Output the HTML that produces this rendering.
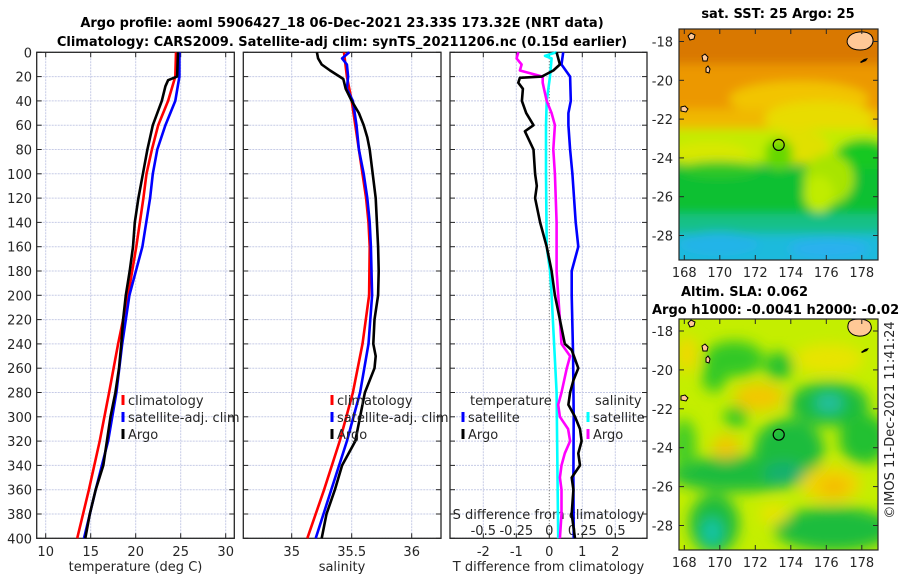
<!DOCTYPE html>
<html><head><meta charset="utf-8"><style>
html,body{margin:0;padding:0;background:#fff;}
svg{display:block;font-family:"DejaVu Sans","Liberation Sans",sans-serif;}
.tk{font-size:13px;fill:#262626;}
.tt{font-size:13px;font-weight:bold;fill:#000;}
</style></head><body>
<svg id="fig" width="900" height="580" viewBox="0 0 900 580" xmlns="http://www.w3.org/2000/svg">
<defs>
<filter id="blur1" x="-10%" y="-10%" width="120%" height="120%"><feGaussianBlur stdDeviation="5"/></filter>
<filter id="blur2" x="-10%" y="-10%" width="120%" height="120%"><feGaussianBlur stdDeviation="7"/></filter>
<clipPath id="clipM1"><rect x="679" y="29" width="199" height="231"/></clipPath>
<clipPath id="clipM2"><rect x="679" y="319" width="199" height="231"/></clipPath>
</defs>
<text class="tt" x="342" y="27" text-anchor="middle">Argo profile: aoml 5906427_18 06-Dec-2021 23.33S 173.32E (NRT data)</text>
<text class="tt" x="342" y="46" text-anchor="middle">Climatology: CARS2009. Satellite-adj clim: synTS_20211206.nc (0.15d earlier)</text>
<g id="panels"></g>
<g id="maps"></g>
<text class="tk" transform="translate(894,420) rotate(-90)" text-anchor="middle">©IMOS 11-Dec-2021 11:41:24</text>
</svg>
<script>
// ---------- data ----------
const depthTicks = [0,20,40,60,80,100,120,140,160,180,200,220,240,260,280,300,320,340,360,380,400];
const tempTicks = [10,15,20,25,30];
const salTicks = [35,35.5,36];
const salTickLabels = ["35","35.5","36"];
const tdiffTicks = [-2,-1,0,1,2];
const sdiffTickLabels = ["-0.5","-0.25","0","0.25","0.5"];
const sdiffTicks = [-0.5,-0.25,0,0.25,0.5];

const tempClimDepth = [0,20,40,60,80,100,120,160,200,240,280,320,360,400];
const tempClim = [24.48,24.4,23.6,22.5,21.8,21.2,20.85,20.07,19.15,18.04,17.04,16.0,14.8,13.5];
const tempSat = [24.85,24.85,24.4,23.3,22.4,21.9,21.6,20.74,19.3,18.5,17.85,16.93,15.56,14.26];
const tempArgoDepth = [0,20,23,28,40,60,70,80,100,120,140,160,180,200,220,240,260,280,300,320,340,360,380,400];
const tempArgo = [24.7,24.6,23.6,23.3,22.9,21.9,21.6,21.3,20.8,20.3,19.9,19.7,19.33,18.9,18.6,18.4,18.15,17.74,17.2,16.8,16.4,15.56,14.9,14.4];

const salClimDepth = [0,20,40,60,80,100,120,140,160,200,240,280,320,360,400];
const salClim = [35.436,35.46,35.5,35.53,35.56,35.59,35.62,35.64,35.65,35.645,35.59,35.51,35.40,35.27,35.13];
const salSatDepth = [0,5,10,20,30,40,60,80,100,120,140,160,200,240,280,320,360,400];
const salSat = [35.48,35.42,35.46,35.47,35.46,35.51,35.54,35.56,35.60,35.63,35.65,35.66,35.67,35.64,35.57,35.46,35.33,35.2];
const salArgoDepth = [0,5,10,15,20,22,30,40,50,60,70,80,100,120,140,160,180,200,220,240,250,260,280,300,320,340,360,380,400];
const salArgo = [35.21,35.22,35.25,35.32,35.40,35.43,35.45,35.5,35.56,35.60,35.63,35.65,35.675,35.70,35.71,35.72,35.725,35.72,35.69,35.68,35.70,35.69,35.61,35.57,35.53,35.42,35.36,35.29,35.25];

const tDiffSatDepth = [0,10,20,40,50,60,80,100,140,160,180,200,250,300,350,400];
const tDiffSat = [0.42,0.37,0.63,0.65,0.58,0.58,0.63,0.7,0.8,0.88,0.68,0.68,0.72,0.74,0.73,0.74];
const tDiffArgoDepth = [0,10,15,20,21,25,30,40,50,60,65,80,100,110,120,140,160,180,200,220,240,245,260,270,280,290,300,310,320,330,340,350,360,380,400];
const tDiffArgo = [0.22,0.32,0.12,-0.23,-0.89,-0.94,-0.8,-0.83,-0.7,-0.48,-0.74,-0.48,-0.43,-0.38,-0.43,-0.28,-0.08,0.07,0.17,0.32,0.47,0.68,0.88,0.73,0.63,0.58,0.78,0.93,0.98,0.88,0.93,0.68,0.73,0.68,0.78];
const sDiffSatDepth = [0,3,5,20,40,60,100,160,180,200,280,400];
const sDiffSat = [0.055,-0.0325,0.0175,0.005,-0.02,-0.025,-0.025,-0.02,0.005,0.0175,0.055,0.0675];
const sDiffArgoDepth = [0,5,10,15,20,25,30,40,50,60,80,100,140,180,200,220,240,250,260,280,290,300,310,320,330,340,350,360,380,400];
const sDiffArgo = [-0.235,-0.2475,-0.21,-0.2225,-0.05,-0.05,-0.04,-0.02,0.0175,0.0425,0.03,0.0425,0.055,0.055,0.0675,0.08,0.0925,0.1575,0.1325,0.0925,0.0675,0.08,0.1425,0.1575,0.1175,0.0925,0.08,0.0925,0.0925,0.08];

const latTicks = [-18,-20,-22,-24,-26,-28];
const lonTicks = [168,170,172,174,176,178];
const argoLon = 173.32, argoLat = -23.33;

// ---------- scales ----------
const yD = d => 52.3 + d*1.215;
const xT = t => 45.7 + (t-10)*9;
const xS = s => 291.7 + (s-35)*120;
const xD = v => 549.3 + v*33;
const xSD = v => 549.3 + v*132;
const lonX = lon => 684.3 + (lon-168)*17.75;
const lat1Y = lat => 41.5 + (-18-lat)*19.4;
const lat2Y = lat => 331 + (-18-lat)*19.45;

const NS = "http://www.w3.org/2000/svg";
const P = document.getElementById('panels');
function el(tag, attrs, parent){const e=document.createElementNS(NS,tag);for(const k in attrs)e.setAttribute(k,attrs[k]);(parent||P).appendChild(e);return e;}
function txt(s,attrs,parent){const e=el('text',attrs,parent);e.textContent=s;return e;}

const panels=[{x0:36.7,x1:234.3},{x0:243.3,x1:441},{x0:450,x1:647}];
const TOP=52.3, BOT=538.3;

panels.forEach((p,i)=>{
  const g=el('g',{});
  
  
  // horizontal grid
  depthTicks.forEach(d=>{
    const l=el('line',{x1:p.x0,x2:p.x1,y1:yD(d),y2:yD(d),stroke:'#c6cbe6','stroke-width':1,'stroke-dasharray':'2,1'},g);
    
    
    el('line',{x1:p.x0,x2:p.x0+5,y1:yD(d),y2:yD(d),stroke:'#262626'},g);
    el('line',{x1:p.x1-5,x2:p.x1,y1:yD(d),y2:yD(d),stroke:'#262626'},g);
  });
});

function vgrid(xs, fn, isZero){
  xs.forEach(v=>{
    const x=fn(v);
    if(isZero && isZero(v)){
      const l=el('line',{x1:x,x2:x,y1:TOP,y2:BOT,stroke:'#555','stroke-width':1,'stroke-dasharray':'1,2'});
      
      
    } else {
      const l=el('line',{x1:x,x2:x,y1:TOP,y2:BOT,stroke:'#c6cbe6','stroke-width':1,'stroke-dasharray':'2,1'});
      
      
    }
    el('line',{x1:x,x2:x,y1:BOT-5,y2:BOT,stroke:'#262626'});
    el('line',{x1:x,x2:x,y1:TOP,y2:TOP+5,stroke:'#262626'});
  });
}
vgrid(tempTicks,xT);
vgrid(salTicks,xS);
vgrid(tdiffTicks,xD,v=>v===0);

// frames
panels.forEach((p,i)=>{
  const r=el('rect',{x:p.x0,y:TOP,width:p.x1-p.x0,height:BOT-TOP,fill:'none',stroke:'#262626','stroke-width':1.3});
  
  
});

// y tick labels
depthTicks.forEach(d=>{
  const t=txt(String(d),{class:'tk',x:32,y:yD(d)+5,'text-anchor':'end'});
  
  
});
// x tick labels
tempTicks.forEach(v=>{const t=txt(String(v),{class:'tk',x:xT(v),y:556,'text-anchor':'middle'});
  });
salTicks.forEach((v,i)=>{const t=txt(salTickLabels[i],{class:'tk',x:xS(v),y:556,'text-anchor':'middle'});
  });
tdiffTicks.forEach(v=>{const t=txt(String(v),{class:'tk',x:xD(v),y:556,'text-anchor':'middle'});
  });
sdiffTicks.forEach((v,i)=>{const t=txt(sdiffTickLabels[i],{class:'tk',x:xSD(v),y:535,'text-anchor':'middle'});
  });

let t;
t=txt('temperature (deg C)',{class:'tk',x:135.5,y:571,'text-anchor':'middle'});

t=txt('salinity',{class:'tk',x:342,y:571,'text-anchor':'middle'});

t=txt('T difference from climatology',{class:'tk',x:548.5,y:571,'text-anchor':'middle'});

t=txt('S difference from climatology',{class:'tk',x:548.5,y:519,'text-anchor':'middle'});


// series
function series(depths, vals, fx, color, name, w){
  const pts=depths.map((d,i)=>fx(vals[i]).toFixed(1)+','+yD(d).toFixed(1)).join(' ');
  const pl=el('polyline',{points:pts,fill:'none',stroke:color,'stroke-width':w||2.6,'stroke-linejoin':'round'});
  
  
}
series(tempClimDepth,tempClim,xT,'#ff0000','temp-climatology-line');
series(tempClimDepth,tempSat,xT,'#0000ff','temp-satellite-line');
series(tempArgoDepth,tempArgo,xT,'#000000','temp-argo-line');
series(salClimDepth,salClim,xS,'#ff0000','sal-climatology-line');
series(salSatDepth,salSat,xS,'#0000ff','sal-satellite-line');
series(salArgoDepth,salArgo,xS,'#000000','sal-argo-line');
series(tDiffSatDepth,tDiffSat,xD,'#0000ff','tdiff-satellite-line');
series(sDiffSatDepth,sDiffSat,xSD,'#00ffff','sdiff-satellite-line');
series(sDiffArgoDepth,sDiffArgo,xSD,'#ff00ff','sdiff-argo-line');
series(tDiffArgoDepth,tDiffArgo,xD,'#000000','tdiff-argo-line');

// legends
function legend(x,y,color,label,name){
  const g=el('g',{});
  
  
  el('line',{x1:x,x2:x,y1:y-10,y2:y,stroke:color,'stroke-width':3},g);
  txt(label,{class:'tk',x:x+5,y:y,fill:'#262626'},g);
}
legend(123,405,'#ff0000','climatology','legend-temp-climatology');
legend(123,422,'#0000ff','satellite-adj. clim','legend-temp-satellite');
legend(123,439,'#000000','Argo','legend-temp-argo');
legend(332,405,'#ff0000','climatology','legend-sal-climatology');
legend(332,422,'#0000ff','satellite-adj. clim','legend-sal-satellite');
legend(332,439,'#000000','Argo','legend-sal-argo');
t=txt('temperature',{class:'tk',x:470,y:405});

t=txt('salinity',{class:'tk',x:595,y:405});

legend(463,422,'#0000ff','satellite','legend-tdiff-satellite');
legend(463,439,'#000000','Argo','legend-tdiff-argo');
legend(588,422,'#00ffff','satellite','legend-sdiff-satellite');
legend(588,439,'#ff00ff','Argo','legend-sdiff-argo');

// ---------- maps ----------
const M=document.getElementById('maps');
function mapFrame(y0,latY,title,name){
  const g=el('g',{},M);
  
  
  el('rect',{x:679,y:y0,width:199,height:231,fill:'none',stroke:'#262626','stroke-width':1.2},g);
  latTicks.forEach(la=>{
    const y=latY(la);
    el('line',{x1:679,x2:684,y1:y,y2:y,stroke:'#262626'},g);
    el('line',{x1:873,x2:878,y1:y,y2:y,stroke:'#262626'},g);
    const tl=txt(String(la),{class:'tk',x:673,y:y+5,'text-anchor':'end'},g);
    
  });
  lonTicks.forEach(lo=>{
    const x=lonX(lo);
    el('line',{x1:x,x2:x,y1:y0+231-5,y2:y0+231,stroke:'#262626'},g);
    el('line',{x1:x,x2:x,y1:y0,y2:y0+5,stroke:'#262626'},g);
    const tl=txt(String(lo),{class:'tk',x:x,y:y0+231+17,'text-anchor':'middle'},g);
    
  });
}
function blob(g,cx,cy,rx,ry,fill){el('ellipse',{cx:cx,cy:cy,rx:rx,ry:ry,fill:fill},g);}
function rect(g,x,y,w,h,fill){el('rect',{x:x,y:y,width:w,height:h,fill:fill},g);}

// map 1: SST
(function(){
  const c=el('g',{'clip-path':'url(#clipM1)'},M);
  
  
  const ox=679, oy=29;
  rect(c,ox,oy,199,231,'#2ab84a');
  const b=el('g',{filter:'url(#blur1)'},c);
  rect(b,ox-20,oy-20,240,60,'#d97800');
  rect(b,ox-20,oy+35,240,45,'#ec9800');
  blob(b,ox+120,oy+70,70,18,'#f2c400');
  rect(b,ox-20,oy+80,240,25,'#f0b800');
  blob(b,ox+140,oy+90,55,18,'#e8dc00');
  rect(b,ox-20,oy+100,240,35,'#c2ec00');
  blob(b,ox+30,oy+125,40,12,'#d8e800');
  blob(b,ox+120,oy+118,30,18,'#e0e000');
  blob(b,ox+100,oy+125,14,16,'#66d800');
  blob(b,ox+185,oy+130,30,20,'#18c820');
  rect(b,ox-20,oy+140,240,45,'#10c030');
  blob(b,ox+150,oy+150,25,25,'#a8e400');
  blob(b,ox+140,oy+165,15,18,'#c0ec00');
  blob(b,ox+40,oy+140,40,8,'#30c828');
  rect(b,ox-20,oy+185,240,20,'#12c088');
  rect(b,ox-20,oy+205,240,40,'#1cbadc');
  blob(b,ox+40,oy+215,40,12,'#20b4e8');
  blob(b,ox+150,oy+220,40,10,'#2cb0ee');
  // land
  el('path',{d:'M848,38 C852,31 866,30 871,35 C876,41 872,50 860,50 C850,50 845,44 848,38 Z',fill:'#ffc896',stroke:'#000','stroke-width':1},c);
  el('path',{d:'M688,36 l3,-3 l4,2 l-1,4 l-4,1 Z',fill:'#ffc896',stroke:'#000','stroke-width':1},c);
  el('path',{d:'M702,56 l3,-2 l3,3 l-1,4 l-4,0 Z',fill:'#ffc896',stroke:'#000','stroke-width':1},c);
  el('path',{d:'M706,68 l2,-2 l2,3 l-1,4 l-3,-1 Z',fill:'#ffc896',stroke:'#000','stroke-width':1},c);
  el('path',{d:'M681,107 l4,-1 l3,3 l-2,3 l-5,-1 Z',fill:'#ffc896',stroke:'#000','stroke-width':1},c);
  el('path',{d:'M860,62 l4,-3 l4,-1 l-2,3 l-5,2 Z',fill:'#000'},c);
})();
mapFrame(29,lat1Y,'','sst-map-axes');
let mk=el('circle',{cx:lonX(argoLon),cy:lat1Y(argoLat),r:5.5,fill:'none',stroke:'#000','stroke-width':1.2},M);


t=txt('sat. SST: 25 Argo: 25',{class:'tt',x:778,y:18,'text-anchor':'middle'},M);


// map 2: SLA
(function(){
  const c=el('g',{'clip-path':'url(#clipM2)'},M);
  
  
  const ox=679, oy=319;
  rect(c,ox,oy,199,231,'#c4ee00');
  const b=el('g',{filter:'url(#blur2)'},c);
  // green structures
  blob(b,ox+55,oy+40,30,18,'#30c828');
  blob(b,ox+35,oy+58,12,15,'#30c828');
  blob(b,ox+100,oy+47,14,14,'#22c030');
  blob(b,ox+57,oy+98,12,11,'#30c828');
  blob(b,ox+60,oy+155,70,18,'#1cbc3c');
  blob(b,ox+110,oy+130,35,30,'#1cbc3c');
  blob(b,ox+150,oy+85,40,22,'#1cbc3c');
  blob(b,ox+150,oy+84,14,10,'#20c0a0');
  blob(b,ox+185,oy+120,25,25,'#20c030');
  blob(b,ox+105,oy+155,20,12,'#18b070');
  blob(b,ox+155,oy+210,60,22,'#1cbc3c');
  blob(b,ox+35,oy+205,25,30,'#1cbc3c');
  blob(b,ox+33,oy+213,10,14,'#18c4a8');
  blob(b,ox+5,oy+125,12,25,'#40cc28');
  // yellow spots
  blob(b,ox+80,oy+78,25,14,'#f2c800');
  blob(b,ox+47,oy+128,14,12,'#f0c800');
  blob(b,ox+152,oy+165,30,18,'#f0d400');
  blob(b,ox+155,oy+168,14,8,'#f5b800');
  blob(b,ox+150,oy+40,35,15,'#e8e400');
  blob(b,ox+8,oy+35,10,18,'#f0d800');
  blob(b,ox+95,oy+195,15,10,'#e8e400');
  el('path',{d:'M849,322 C853,318 866,318 870,323 C874,330 868,337 858,336 C849,335 846,328 849,322 Z',fill:'#ffc896',stroke:'#000','stroke-width':1},c);
  el('path',{d:'M688,323 l3,-3 l4,2 l-1,4 l-4,1 Z',fill:'#ffc896',stroke:'#000','stroke-width':1},c);
  el('path',{d:'M702,346 l3,-2 l3,3 l-1,4 l-4,0 Z',fill:'#ffc896',stroke:'#000','stroke-width':1},c);
  el('path',{d:'M706,358 l2,-2 l2,3 l-1,4 l-3,-1 Z',fill:'#ffc896',stroke:'#000','stroke-width':1},c);
  el('path',{d:'M681,396 l4,-1 l3,3 l-2,3 l-5,-1 Z',fill:'#ffc896',stroke:'#000','stroke-width':1},c);
  el('path',{d:'M861,352 l4,-3 l4,-1 l-2,3 l-5,2 Z',fill:'#000'},c);
})();
mapFrame(319,lat2Y,'','sla-map-axes');
mk=el('circle',{cx:lonX(argoLon),cy:lat2Y(argoLat),r:5.5,fill:'none',stroke:'#000','stroke-width':1.2},M);


t=txt('Altim. SLA: 0.062',{class:'tt',x:681,y:296},M);

t=txt('Argo h1000: -0.0041 h2000: -0.02',{class:'tt',x:652,y:314},M);

</script>
</body></html>
